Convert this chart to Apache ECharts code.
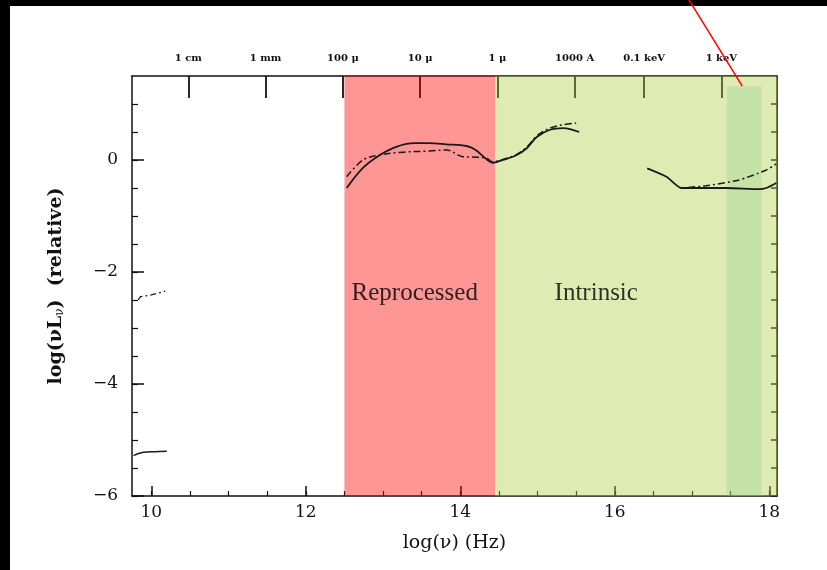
<!DOCTYPE html>
<html>
<head>
<meta charset="utf-8">
<script src="https://cdn.jsdelivr.net/npm/echarts@6/dist/echarts.min.js"></script>
<style>
html,body{margin:0;padding:0;background:#fff;}
#chart{width:827px;height:570px;}
</style>
</head>
<body>
<div id="chart"></div>
<script>
// ---- data ----
const radioDashX = [9.83, 9.86, 10.0, 10.18];
const radioDashY = [-2.50, -2.44, -2.41, -2.34];
const radioSolidX = [9.77, 9.90, 10.05, 10.20];
const radioSolidY = [-5.28, -5.22, -5.21, -5.20];
const irSolidX = [12.53, 12.74, 12.96, 13.18, 13.41, 13.60, 13.82, 14.08, 14.20, 14.30, 14.42, 14.55, 14.73, 14.86, 14.99, 15.16, 15.33, 15.54];
const irSolidY = [-0.50, -0.14, 0.09, 0.24, 0.30, 0.30, 0.28, 0.25, 0.18, 0.06, -0.05, 0.00, 0.09, 0.21, 0.41, 0.54, 0.57, 0.50];
const irDashX = [12.53, 12.74, 12.96, 13.26, 13.60, 13.82, 14.03, 14.20, 14.34, 14.42, 14.55, 14.73, 14.86, 14.99, 15.16, 15.33, 15.50];
const irDashY = [-0.30, 0.00, 0.09, 0.14, 0.16, 0.18, 0.06, 0.05, 0.03, -0.03, 0.01, 0.10, 0.23, 0.43, 0.57, 0.63, 0.66];
const xraySolidX = [16.42, 16.67, 16.86, 17.07, 17.45, 17.87, 17.96, 18.09];
const xraySolidY = [-0.15, -0.30, -0.50, -0.50, -0.50, -0.52, -0.50, -0.41];
const xrayDashX = [16.95, 17.18, 17.60, 17.96, 18.09];
const xrayDashY = [-0.49, -0.46, -0.36, -0.18, -0.07];
const regionReprocessed = [12.5, 14.45];
const regionIntrinsic = [14.45, 18.1];
const regionXray = [17.45, 17.9, 1.32];
const arrowX = [16.96, 17.65];
const arrowY = [2.86, 1.32];
const textLabels = ['Reprocessed', 'Intrinsic'];
const textX = [13.41, 15.76];
const textY = [-2.38, -2.38];
const xMajorTicks = [10, 12, 14, 16, 18];
const xMinorTicks = [10, 10.5, 11, 11.5, 12, 12.5, 13, 13.5, 14, 14.5, 15, 15.5, 16, 16.5, 17, 17.5, 18];
const yMajorTicks = [-6, -4, -2, 0];
const yMinorTicks = [-6, -5.5, -5, -4.5, -4, -3.5, -3, -2.5, -2, -1.5, -1, -0.5, 0, 0.5, 1];
const topTickPos = [10.48, 11.48, 12.48, 13.48, 14.48, 15.48, 16.38, 17.38];
const topLabels = ['1 cm', '1 mm', '100 μ', '10 μ', '1 μ', '1000 A', '0.1 keV', '1 keV'];

const zip = (xs, ys) => xs.map((x, i) => [x, ys[i]]);
const serif = 'DejaVu Serif';
const ink = '#1a1a1a';

const chart = echarts.init(document.getElementById('chart'), null, {renderer: 'canvas'});
const lineBase = {type: 'line', showSymbol: false, symbol: 'none', smooth: 0.35, z: 3, animation: false};
const axisLineStyle = {show: true, onZero: false, lineStyle: {color: '#111', width: 1.5}};
const noLine = {show: false, onZero: false};
const xRange = {min: 9.75, max: 18.1};
const yRange = {min: -6, max: 1.5};

chart.setOption({
  animation: false,
  backgroundColor: '#fff',
  grid: {left: 132, right: 50, top: 76, bottom: 74, containLabel: false},
  graphic: [
    {type: 'rect', shape: {x: 0, y: 0, width: 827, height: 6}, style: {fill: '#000'}, z: 0},
    {type: 'rect', shape: {x: 0, y: 0, width: 10, height: 570}, style: {fill: '#000'}, z: 0}
  ],
  xAxis: [
    Object.assign({type: 'value', position: 'bottom', axisLine: axisLineStyle,
      axisTick: {show: true, inside: true, length: 10, customValues: xMajorTicks, lineStyle: {color: '#111', width: 1.5}},
      axisLabel: {customValues: xMajorTicks, color: '#111', fontFamily: serif, fontSize: 17, margin: 8},
      splitLine: {show: false},
      name: 'log(ν) (Hz)', nameLocation: 'middle', nameGap: 38,
      nameTextStyle: {fontFamily: serif, fontSize: 19, color: '#111'}}, xRange),
    Object.assign({type: 'value', position: 'bottom', axisLine: noLine,
      axisTick: {show: true, inside: true, length: 5, customValues: xMinorTicks, lineStyle: {color: '#111', width: 1.2}},
      axisLabel: {show: false}, splitLine: {show: false}}, xRange),
    Object.assign({type: 'value', position: 'top', axisLine: axisLineStyle,
      axisTick: {show: true, inside: true, length: 22, customValues: topTickPos, lineStyle: {color: '#111', width: 1.8}},
      axisLabel: {customValues: topTickPos, formatter: v => topLabels[topTickPos.indexOf(v)] || '',
        color: '#111', fontFamily: serif, fontWeight: 'bold', fontSize: 10, margin: 13},
      splitLine: {show: false}}, xRange)
  ],
  yAxis: [
    Object.assign({type: 'value', position: 'left', axisLine: axisLineStyle,
      axisTick: {show: true, inside: true, length: 12, customValues: yMajorTicks, lineStyle: {color: '#111', width: 1.5}},
      axisLabel: {customValues: yMajorTicks, formatter: v => String(v).replace('-', '−'),
        color: '#111', fontFamily: serif, fontSize: 17, margin: 14},
      splitLine: {show: false},
      name: '{a|log(νL}{s|ν}{a|)  (relative)}', nameLocation: 'middle', nameGap: 66,
      nameTextStyle: {rich: {
        a: {fontFamily: serif, fontSize: 19, color: '#111', fontWeight: 'bold'},
        s: {fontFamily: serif, fontSize: 12, color: '#111', verticalAlign: 'bottom', padding: [8, 0, 0, 0]}}}}, yRange),
    Object.assign({type: 'value', position: 'left', axisLine: noLine,
      axisTick: {show: true, inside: true, length: 6, customValues: yMinorTicks, lineStyle: {color: '#111', width: 1.2}},
      axisLabel: {show: false}, splitLine: {show: false}}, yRange),
    Object.assign({type: 'value', position: 'right', axisLine: axisLineStyle,
      axisTick: {show: true, inside: true, length: 6, customValues: yMinorTicks, lineStyle: {color: '#111', width: 1.5}},
      axisLabel: {show: false}, splitLine: {show: false}}, yRange)
  ],
  series: [
    Object.assign({}, lineBase, {name: 'radio dashed', data: zip(radioDashX, radioDashY), smooth: false,
      lineStyle: {color: ink, width: 1.3, type: [6, 3, 2, 3]}}),
    Object.assign({}, lineBase, {name: 'radio solid', data: zip(radioSolidX, radioSolidY),
      lineStyle: {color: ink, width: 1.5}}),
    Object.assign({}, lineBase, {name: 'IR solid', data: zip(irSolidX, irSolidY),
      lineStyle: {color: ink, width: 1.8}}),
    Object.assign({}, lineBase, {name: 'IR dash-dot', data: zip(irDashX, irDashY),
      lineStyle: {color: ink, width: 1.5, type: [7, 3, 2, 3]}}),
    Object.assign({}, lineBase, {name: 'X-ray solid', data: zip(xraySolidX, xraySolidY), smooth: 0.2,
      lineStyle: {color: ink, width: 1.8}}),
    Object.assign({}, lineBase, {name: 'X-ray dash-dot', data: zip(xrayDashX, xrayDashY), smooth: 0.2,
      lineStyle: {color: ink, width: 1.5, type: [7, 3, 2, 3]}}),
    {type: 'line', name: 'regions', data: [], z: 6, silent: true,
      markArea: {silent: true, label: {show: false}, data: [
        [{xAxis: regionReprocessed[0], itemStyle: {color: 'rgba(255,0,0,0.41)'}}, {xAxis: regionReprocessed[1]}],
        [{xAxis: regionIntrinsic[0], itemStyle: {color: 'rgba(172,207,67,0.40)'}}, {xAxis: regionIntrinsic[1]}],
        [{xAxis: regionXray[0], yAxis: regionXray[2], itemStyle: {color: 'rgba(138,203,147,0.30)'}}, {xAxis: regionXray[1], yAxis: -6}]
      ]}},
    {type: 'scatter', name: 'labels', z: 10, symbolSize: 0, silent: true,
      data: textLabels.map((t, i) => ({name: t, value: [textX[i], textY[i]]})),
      label: {show: true, position: 'inside', formatter: p => p.name,
        fontFamily: 'Liberation Serif', fontSize: 25, color: '#000'}},
    {type: 'line', name: 'pointer', z: 10, clip: false, showSymbol: false, symbol: 'none', silent: true,
      data: zip(arrowX, arrowY), lineStyle: {color: '#ff0000', width: 1.5}}
  ]
});
</script>
</body>
</html>
